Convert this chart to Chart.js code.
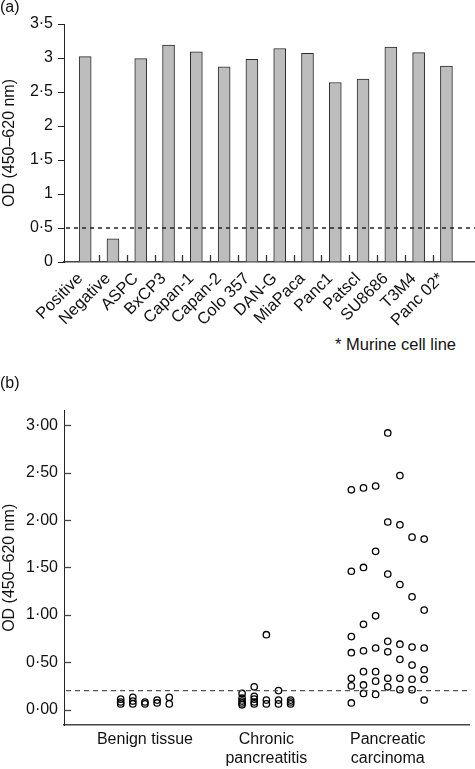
<!DOCTYPE html>
<html>
<head>
<meta charset="utf-8">
<script src="https://cdn.jsdelivr.net/npm/chart.js@4/dist/chart.umd.min.js"></script>
<style>
  body { margin:0; background:#fff; font-family:"Liberation Sans", Arial, Helvetica, sans-serif; color:#111; }
  #wrap { position:relative; width:475px; height:769px; overflow:hidden; }
  .lbl { position:absolute; font-size:16px; white-space:nowrap; }
  #chartA { position:absolute; left:0; top:0; }
  #chartB { position:absolute; left:0; top:395px; }
</style>
</head>
<body>
<div id="wrap">
  <canvas id="chartA" width="475" height="330"></canvas>
  <canvas id="chartB" width="475" height="374"></canvas>
  <div class="lbl" style="left:0;top:-2px;">(a)</div>
  <div class="lbl" style="left:335px;top:335px;font-size:16.5px;">* Murine cell line</div>
  <div class="lbl" style="left:0;top:374px;">(b)</div>
</div>
<script>
// panel (a): cell lines
const cellLines = ["Positive","Negative","ASPC","BxCP3","Capan-1","Capan-2","Colo 357","DAN-G","MiaPaca","Panc1","Patscl","SU8686","T3M4","Panc 02*"];
const odValues = [3.02,0.34,2.99,3.19,3.09,2.87,2.98,3.14,3.07,2.64,2.69,3.16,3.08,2.88];
const cutoffA = 0.5;
const yTicksA = [0,0.5,1,1.5,2,2.5,3,3.5];

// panel (b): tissue samples, one inner array per column of dots
const groupNames = ["Benign tissue", ["Chronic","pancreatitis"], ["Pancreatic","carcinoma"]];
const benign = [[0.11,0.08,0.06],[0.13,0.09,0.06],[0.08,0.06],[0.10,0.07],[0.13,0.06]];
const chronic = [[0.17,0.12,0.09,0.07,0.05],[0.24,0.14,0.11,0.08,0.06],[0.79,0.10,0.06],[0.20,0.10,0.06],[0.10,0.08,0.06]];
const carcinoma = [
  [2.32,1.46,0.77,0.60,0.33,0.25,0.07],
  [2.34,1.50,0.90,0.62,0.40,0.26,0.17],
  [2.36,1.67,0.99,0.65,0.40,0.30,0.16],
  [2.92,1.98,1.43,0.72,0.61,0.33,0.24],
  [2.47,1.95,1.32,0.69,0.53,0.33,0.21],
  [1.82,1.19,0.66,0.47,0.32,0.21],
  [1.80,1.05,0.65,0.42,0.32,0.10]
];
const cutoffB = 0.2;
const yTicksB = [0,0.5,1,1.5,2,2.5,3];

const FONT = '"Liberation Sans", Arial, Helvetica, sans-serif';
Chart.defaults.font.family = FONT;
Chart.defaults.font.size = 16;
Chart.defaults.color = "#111";

function dotFmt(v, digits){
    const s = digits ? v.toFixed(digits) : String(v);
    return s.replace(".", "\u00b7");
}

function cutoffPlugin(value, dash, color){
    return {
        id: "cutoff",
        afterDatasetsDraw(chart){
            const {ctx, chartArea, scales} = chart;
            const y = scales.y.getPixelForValue(value);
            ctx.save();
            ctx.strokeStyle = color;
            ctx.lineWidth = 1.3;
            ctx.setLineDash(dash);
            ctx.beginPath();
            ctx.moveTo(chartArea.left + 2, y);
            ctx.lineTo(chartArea.right, y);
            ctx.stroke();
            ctx.restore();
        }
    };
}

// short upward marks between bars + slanted cell line names
const cellAxis = {
    id: "cellAxis",
    afterDraw(chart){
        const {ctx, chartArea, scales} = chart;
        ctx.save();
        ctx.strokeStyle = "#333";
        ctx.lineWidth = 1.3;
        for(let i=0;i<cellLines.length-1;i++){
            const x = Math.round(scales.x.getPixelForValue(i+0.5)) + 0.5;
            ctx.beginPath();
            ctx.moveTo(x, chartArea.bottom);
            ctx.lineTo(x, chartArea.bottom - 7);
            ctx.stroke();
        }
        ctx.fillStyle = "#111";
        ctx.font = "16.5px " + FONT;
        ctx.textAlign = "right";
        ctx.textBaseline = "middle";
        cellLines.forEach((name, i) => {
            const x = scales.x.getPixelForValue(i);
            ctx.save();
            ctx.translate(x - 5, chartArea.bottom + 14);
            ctx.rotate(-Math.PI/4);
            ctx.fillText(name, 0, 0);
            ctx.restore();
        });
        ctx.restore();
    }
};

// inward y ticks for panel (b)
const inwardTicks = {
    id: "inwardTicks",
    afterDraw(chart){
        const {ctx, chartArea, scales} = chart;
        ctx.save();
        ctx.strokeStyle = "#444";
        ctx.lineWidth = 1.3;
        yTicksB.forEach(v => {
            const y = Math.round(scales.y.getPixelForValue(v)) + 0.5;
            ctx.beginPath();
            ctx.moveTo(chartArea.left, y);
            ctx.lineTo(chartArea.left + 7, y);
            ctx.stroke();
        });
        ctx.restore();
    }
};

new Chart(document.getElementById("chartA"), {
    type: "bar",
    data: {
        datasets: [{
            data: odValues.map((v,i)=>({x:i, y:v})),
            backgroundColor: "#bdbdbd",
            borderColor: "#2a2a2a",
            borderWidth: 1,
            barThickness: 12
        }]
    },
    options: {
        responsive: false,
        animation: false,
        layout: { padding: { top: 24, left: 0, right: 0, bottom: 0 } },
        plugins: { legend: { display: false }, tooltip: { enabled: false } },
        scales: {
            x: {
                type: "linear",
                min: -0.234,
                max: 13.5,
                afterBuildTicks(scale){ scale.ticks = cellLines.map((c,i)=>({value:i})); },
                afterFit(scale){ scale.height = 68; scale.paddingLeft = 0; scale.paddingRight = 0; },
                grid: { display: false, drawTicks: false },
                border: { display: true, color: "#444", width: 1.5 },
                ticks: { display: false }
            },
            y: {
                min: 0,
                max: 3.5,
                afterBuildTicks(scale){ scale.ticks = yTicksA.map(v=>({value:v})); },
                afterFit(scale){ scale.width = 64; },
                grid: { drawOnChartArea: false, drawTicks: true, tickLength: 6, color: "#222", lineWidth: 1 },
                border: { display: true, color: "#222", width: 1 },
                title: { display: true, text: "OD (450\u2013620 nm)", padding: 0, font: { size: 16 } },
                ticks: { padding: 5, callback: v => dotFmt(v) }
            }
        }
    },
    plugins: [cutoffPlugin(cutoffA, [4,4], "#222"), cellAxis]
});

function columnsToPoints(cols, group){
    const pts = [];
    const n = cols.length;
    cols.forEach((col, c) => {
        col.forEach(v => pts.push({ x: group + (c - (n-1)/2)*0.1, y: v }));
    });
    return pts;
}

const pointStyle = {
    pointRadius: 3.2,
    pointBorderWidth: 1.3,
    pointBorderColor: "#000",
    pointBackgroundColor: "rgba(255,255,255,0)",
    showLine: false
};

new Chart(document.getElementById("chartB"), {
    type: "scatter",
    data: {
        datasets: [
            Object.assign({ data: columnsToPoints(benign, 1) }, pointStyle),
            Object.assign({ data: columnsToPoints(chronic, 2) }, pointStyle),
            Object.assign({ data: columnsToPoints(carcinoma, 3) }, pointStyle)
        ]
    },
    options: {
        responsive: false,
        animation: false,
        layout: { padding: { top: 10, left: 0, right: 0, bottom: 0 } },
        plugins: { legend: { display: false }, tooltip: { enabled: false } },
        scales: {
            x: {
                type: "linear",
                min: 0.333,
                max: 3.675,
                afterBuildTicks(scale){ scale.ticks = groupNames.map((g,i)=>({value:i+1})); },
                afterFit(scale){ scale.height = 44; },
                grid: { display: false, drawTicks: false },
                border: { display: true, color: "#444", width: 1.5 },
                ticks: { padding: 5, maxRotation: 0, autoSkip: false, callback: v => groupNames[v-1] }
            },
            y: {
                min: -0.163,
                max: 3.156,
                afterBuildTicks(scale){ scale.ticks = yTicksB.map(v=>({value:v})); },
                afterFit(scale){ scale.width = 64; },
                grid: { display: false, drawTicks: false },
                border: { display: true, color: "#222", width: 1 },
                title: { display: true, text: "OD (450\u2013620 nm)", padding: 0, font: { size: 16 } },
                ticks: { padding: 6, callback: v => dotFmt(v, 2) }
            }
        }
    },
    plugins: [cutoffPlugin(cutoffB, [5,4], "#555"), inwardTicks]
});
</script>
</body>
</html>
